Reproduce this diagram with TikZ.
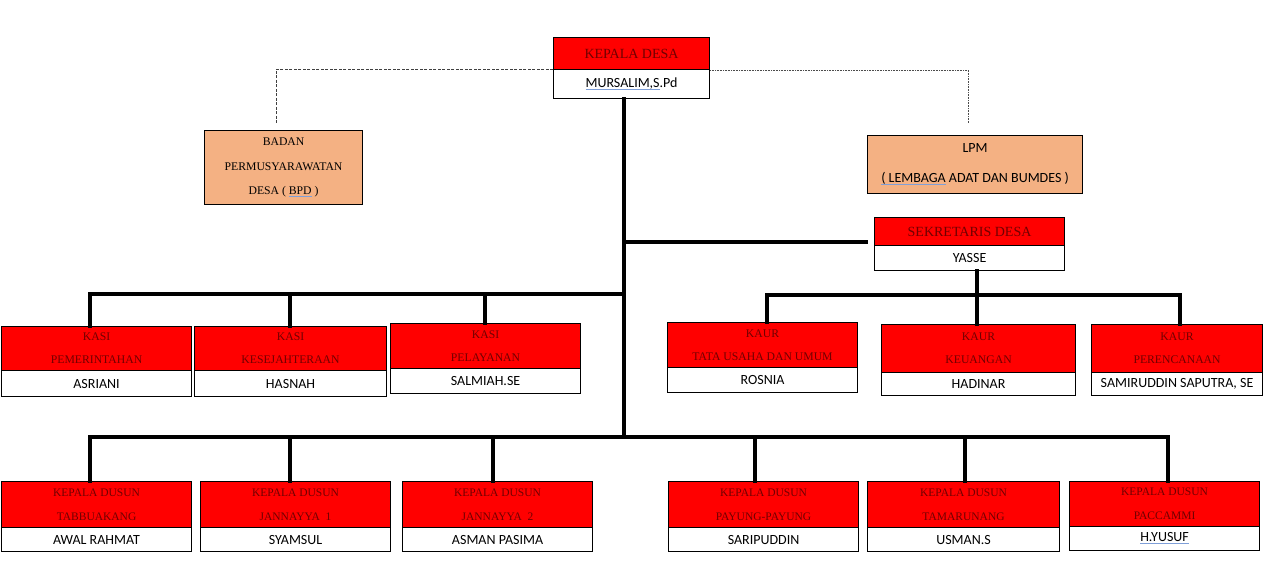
\documentclass[tikz,border=0pt]{standalone}
\usepackage{fontspec}
\setmainfont{Liberation Serif}
\newfontfamily\carlitofont{Carlito}
\definecolor{hdrred}{HTML}{FF0000}
\definecolor{hdrtxt}{HTML}{700000}
\definecolor{peach}{HTML}{F4B183}
\definecolor{splblue}{HTML}{7F9FD8}
\newcommand\spl[1]{\setbox0\hbox{#1}\rlap{\color{splblue}\rule[-2.8pt]{\wd0}{1.1pt}}\box0\relax}
\tikzset{
  hdr/.style={draw=black,line width=1.1pt,fill=hdrred,text=hdrtxt,inner sep=0pt,align=center},
  nm/.style={draw=black,line width=1.1pt,fill=white,inner sep=0pt,font=\carlitofont\fontsize{14}{15}\selectfont},
  side/.style={draw=black,line width=1.1pt,fill=peach,inner sep=0pt,align=center},
  conn/.style={line width=4pt,line cap=rect},
  dashconn/.style={line width=0.8pt,dash pattern=on 3pt off 1.5pt,draw=black!75},
  dotconn/.style={line width=0.8pt,dash pattern=on 1pt off 0.6pt,draw=black!70}
}
\newcommand\hbig{\fontsize{14}{16}\selectfont}
\newcommand\hsmall{\fontsize{11.7}{23}\selectfont}
\newcommand\hdus{\fontsize{11.5}{24}\selectfont}
% name, x1, y1, x2, ydiv, y2, header, person, headerfont
\newcommand\obox[9]{%
  \node[hdr,font=#9,minimum width={(#4-#2)*1pt},minimum height={(#5-#3)*1pt},anchor=north west] (#1h) at (#2,#3) {#7};
  \node[nm,minimum width={(#4-#2)*1pt},minimum height={(#6-#5)*1pt},anchor=north west] (#1) at (#2,#5) {#8};
}
\begin{document}
\begin{tikzpicture}[x=1pt,y=-1pt]
\useasboundingbox (0,0) rectangle (1263,580);
\fill[white] (0,0) rectangle (1263,580);

% junction coordinates
\coordinate (trunkbot) at (624,437);
\coordinate (jk) at (624,294);
\coordinate (jkL) at (90,294);
\coordinate (jkM) at (290,294);
\coordinate (jkR) at (485,294);
\coordinate (js) at (624,242);
\coordinate (jsE) at (866,242);
\coordinate (juL) at (767,295);
\coordinate (juM) at (977,295);
\coordinate (juR) at (1180,295);
\coordinate (jdL) at (90,437);
\coordinate (jd2) at (290,437);
\coordinate (jd3) at (493,437);
\coordinate (jd4) at (755,437);
\coordinate (jd5) at (965,437);
\coordinate (jdR) at (1168,437);
\coordinate (bpdc) at (276,69);
\coordinate (bpdd) at (276,123);
\coordinate (lpmc) at (968,70);
\coordinate (lpmd) at (968,123);

% boxes
\obox{kd}{553}{37}{709}{69}{98}{KEPALA DESA}{\spl{MURSALIM,S}.Pd}{\hbig}
\obox{sd}{874}{217}{1064}{245}{270}{SEKRETARIS DESA}{YASSE}{\hbig}

\obox{ka}{1}{326}{191}{370}{396}{KASI\\PEMERINTAHAN}{ASRIANI}{\hsmall}
\obox{kb}{194}{326}{386}{370}{396}{KASI\\KESEJAHTERAAN}{HASNAH}{\hsmall}
\obox{kc}{390}{323}{580}{368}{393}{KASI\\PELAYANAN}{SALMIAH.SE}{\hsmall}

\obox{ua}{667}{322}{857}{367}{392}{KAUR\\TATA USAHA DAN UMUM}{ROSNIA}{\hsmall}
\obox{ub}{881}{324}{1075}{372}{395}{KAUR\\KEUANGAN}{HADINAR}{\hsmall}
\obox{uc}{1091}{324}{1262}{372}{395}{KAUR\\PERENCANAAN}{SAMIRUDDIN SAPUTRA, SE}{\hsmall}

\obox{da}{1}{481}{191}{527}{551}{KEPALA DUSUN\\TABBUAKANG}{AWAL RAHMAT}{\hdus}
\obox{db}{200}{481}{390}{527}{551}{KEPALA DUSUN\\JANNAYYA\ \ 1}{SYAMSUL}{\hdus}
\obox{dc}{402}{481}{592}{527}{551}{KEPALA DUSUN\\JANNAYYA\ \ 2}{ASMAN PASIMA}{\hdus}
\obox{dd}{668}{481}{858}{527}{551}{KEPALA DUSUN\\PAYUNG-PAYUNG}{SARIPUDDIN}{\hdus}
\obox{de}{867}{481}{1059}{527}{551}{KEPALA DUSUN\\TAMARUNANG}{USMAN.S}{\hdus}
\obox{df}{1069}{481}{1259}{526}{550}{KEPALA DUSUN\\PACCAMMI}{\spl{H.YUSUF}}{\hdus}

\node[side,minimum width=158pt,minimum height=74pt,anchor=north west,font=\fontsize{11.7}{24.5}\selectfont] (bpd) at (204,130)
  {BADAN\\PERMUSYARAWATAN\\DESA ( \spl{BPD} )};
\node[side,minimum width=215pt,minimum height=58pt,anchor=north west,font=\carlitofont\fontsize{14}{30}\selectfont] (lpm) at (867,135)
  {LPM\\\spl{( LEMBAGA} ADAT DAN BUMDES )};

% dashed links
\draw[dashconn] (kd.west |- bpdc) -- (bpdc) -- (bpdd);
\draw[dotconn] (kd.east |- lpmc) -- (lpmc) -- (lpmd);

% trunk and bars
\draw[conn] (kd.south -| trunkbot) -- (trunkbot);
\draw[conn] (js) -- (jsE);
\draw[conn] (jkL) -- (jk);
\draw[conn] (jkL) -- (jkL |- kah.north);
\draw[conn] (jkM) -- (jkM |- kbh.north);
\draw[conn] (jkR) -- (jkR |- kch.north);

\draw[conn] (juL) -- (juR);
\draw[conn] (sd.south -| juM) -- (juM |- ubh.north);
\draw[conn] (juL) -- (juL |- uah.north);
\draw[conn] (juR) -- (juR |- uch.north);

\draw[conn] (jdL) -- (jdR);
\draw[conn] (jdL) -- (jdL |- dah.north);
\draw[conn] (jd2) -- (jd2 |- dbh.north);
\draw[conn] (jd3) -- (jd3 |- dch.north);
\draw[conn] (jd4) -- (jd4 |- ddh.north);
\draw[conn] (jd5) -- (jd5 |- deh.north);
\draw[conn] (jdR) -- (jdR |- dfh.north);
\end{tikzpicture}
\end{document}
